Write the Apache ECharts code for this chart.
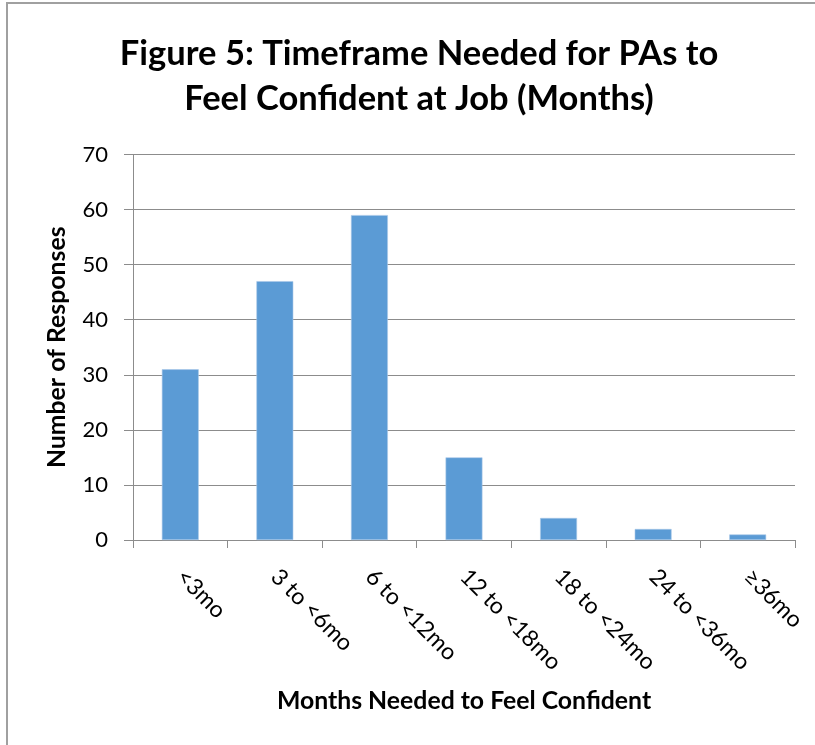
<!DOCTYPE html>
<html>
<head>
<meta charset="utf-8">
<script src="https://cdn.jsdelivr.net/npm/echarts@6/dist/echarts.min.js"></script>
<style>
html,body{margin:0;padding:0;background:#fff;}
#chart{width:815px;height:745px;}
</style>
</head>
<body>
<div id="chart"></div>
<script>
const titleText = 'Figure 5: Timeframe Needed for PAs to\nFeel Confident at Job (Months)';
const categories = ['<3mo', '3 to <6mo', '6 to <12mo', '12 to <18mo', '18 to <24mo', '24 to <36mo', '≥36mo'];
const responses = [31, 47, 59, 15, 4, 2, 1];
const yTicks = { min: 0, max: 70, interval: 10 };
const xAxisName = 'Months Needed to Feel Confident';
const yAxisName = 'Number of Responses';

const FONT = 'Lato, "Open Sans", sans-serif';
const chart = echarts.init(document.getElementById('chart'), null, { renderer: 'canvas' });
chart.setOption({
  backgroundColor: '#ffffff',
  animation: false,
  graphic: [{
    type: 'rect',
    shape: { x: 7, y: 3, width: 900, height: 900 },
    style: { fill: 'none', stroke: '#a0a0a0', lineWidth: 2 },
    silent: true, z: -1
  }],
  title: {
    text: titleText,
    left: 414,
    top: 26,
    textAlign: 'center',
    textStyle: { fontFamily: FONT, fontWeight: 'bold', fontSize: 34.5, lineHeight: 45, color: '#000' }
  },
  grid: { left: 133, right: 20, top: 154.5, bottom: 205, containLabel: false },
  xAxis: {
    type: 'category',
    data: categories,
    name: xAxisName,
    nameLocation: 'middle',
    nameGap: 149,
    nameTextStyle: { fontFamily: FONT, fontWeight: 'bold', fontSize: 24.8, color: '#000' },
    axisLine: { show: true, lineStyle: { color: '#8c8c8c', width: 1 } },
    axisTick: { show: true, length: 8, alignWithLabel: false, lineStyle: { color: '#8c8c8c' } },
    axisLabel: { rotate: -45, margin: 33, fontFamily: FONT, fontSize: 23, color: '#000', interval: 0 }
  },
  yAxis: {
    type: 'value',
    min: yTicks.min, max: yTicks.max, interval: yTicks.interval,
    name: yAxisName,
    nameLocation: 'middle',
    nameGap: 63,
    nameTextStyle: { fontFamily: FONT, fontWeight: 'bold', fontSize: 24.8, color: '#000' },
    axisLine: { show: true, lineStyle: { color: '#8c8c8c', width: 1 } },
    axisTick: { show: true, length: 9, lineStyle: { color: '#8c8c8c' } },
    axisLabel: { margin: 25, fontFamily: FONT, fontSize: 22, color: '#000' },
    splitLine: { show: true, lineStyle: { color: '#8c8c8c', width: 1 } }
  },
  series: [{
    type: 'bar',
    data: responses,
    barCategoryGap: '61%',
    itemStyle: { color: '#5B9BD5', borderColor: '#a9c8e8', borderWidth: 0.6 }
  }]
});
</script>
</body>
</html>
